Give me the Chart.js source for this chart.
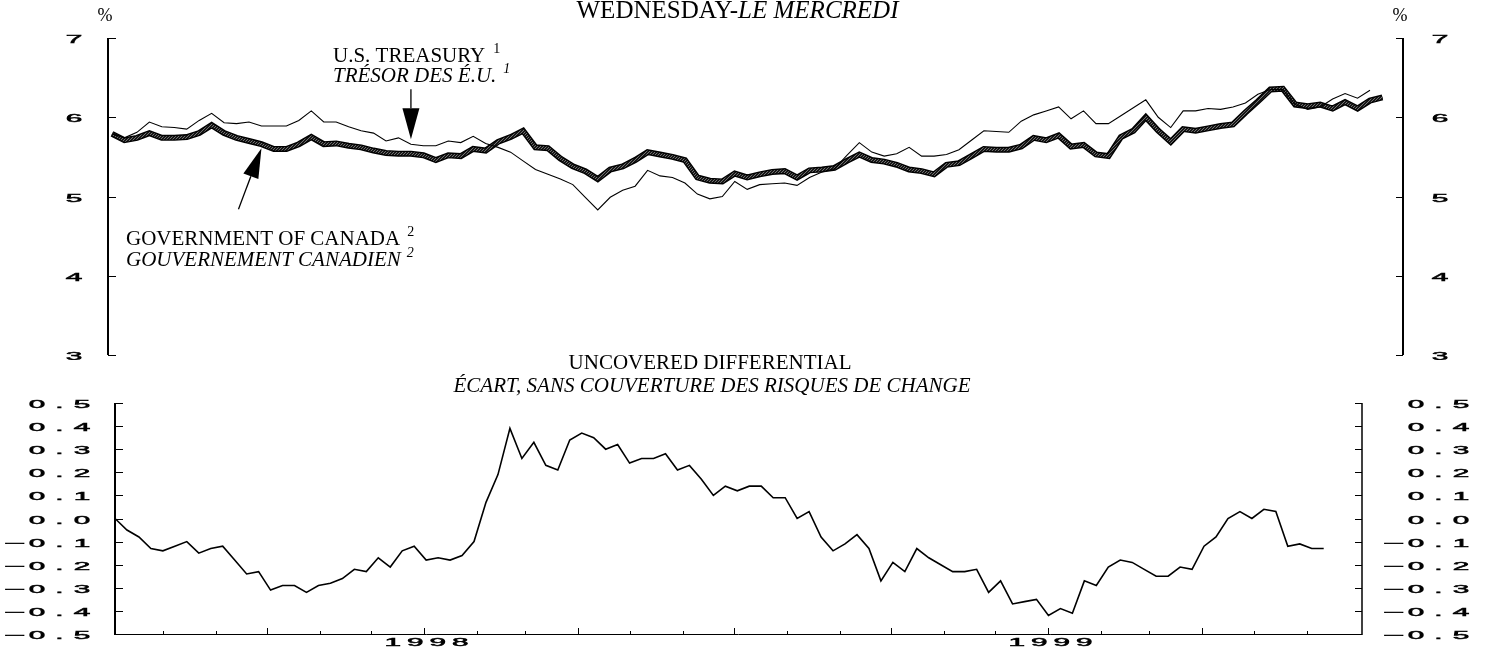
<!DOCTYPE html>
<html>
<head>
<meta charset="utf-8">
<script src="https://cdn.jsdelivr.net/npm/chart.js@4.4.0/dist/chart.umd.min.js"></script>
<style>
  html, body { margin: 0; padding: 0; background: #fff; }
  #wrap { position: relative; width: 1489px; height: 648px; overflow: hidden; }
  canvas { position: absolute; left: 0; }
  #rates { top: 0; }
  #diff { top: 350px; }
</style>
</head>
<body>
<div id="wrap">
  <canvas id="rates" width="1489" height="360"></canvas>
  <canvas id="diff" width="1489" height="298"></canvas>
</div>
<script>
// weekly Wednesday readings, index 0 = 2 July 1997
const usTreasury = [
  5.79, 5.74, 5.81, 5.94, 5.88, 5.87, 5.85, 5.96, 6.05, 5.93,
  5.92, 5.94, 5.89, 5.89, 5.89, 5.96, 6.08, 5.94, 5.94, 5.88,
  5.83, 5.80, 5.70, 5.74, 5.66, 5.64, 5.64, 5.70, 5.68, 5.76,
  5.67, 5.62, 5.56, 5.45, 5.34, 5.28, 5.22, 5.15, 4.99, 4.83,
  4.99, 5.08, 5.13, 5.33, 5.26, 5.24, 5.17, 5.03, 4.97, 5.00,
  5.19, 5.09, 5.15, 5.16, 5.17, 5.14, 5.24, 5.31, 5.35, 5.52,
  5.68, 5.56, 5.51, 5.54, 5.62, 5.51, 5.51, 5.53, 5.59, 5.71,
  5.83, 5.82, 5.81, 5.95, 6.03, 6.08, 6.13, 5.98, 6.08, 5.92,
  5.92, 6.02, 6.12, 6.22, 6.00, 5.87, 6.08, 6.08, 6.11, 6.10,
  6.13, 6.18, 6.29, 6.35, 6.35, 6.16, 6.10, 6.13, 6.23, 6.30,
  6.24, 6.34
];
const govCanada = [
  5.79, 5.71, 5.74, 5.80, 5.74, 5.74, 5.75, 5.80, 5.90, 5.80,
  5.74, 5.70, 5.66, 5.60, 5.60, 5.66, 5.75, 5.66, 5.67, 5.64,
  5.62, 5.58, 5.55, 5.54, 5.54, 5.52, 5.46, 5.52, 5.51, 5.60,
  5.58, 5.69, 5.75, 5.83, 5.62, 5.61, 5.48, 5.38, 5.32, 5.22,
  5.34, 5.38, 5.46, 5.56, 5.53, 5.50, 5.46, 5.24, 5.20, 5.19,
  5.29, 5.24, 5.28, 5.31, 5.32, 5.24, 5.33, 5.34, 5.36, 5.45,
  5.53, 5.46, 5.44, 5.40, 5.34, 5.32, 5.28, 5.40, 5.42, 5.51,
  5.60, 5.59, 5.59, 5.63, 5.74, 5.71, 5.77, 5.63, 5.65, 5.53,
  5.51, 5.75, 5.83, 6.00, 5.83, 5.69, 5.85, 5.83, 5.86, 5.89,
  5.91, 6.06, 6.20, 6.35, 6.36, 6.16, 6.14, 6.16, 6.11, 6.19,
  6.11, 6.21, 6.25
];
const differential = [
   0.00, -0.05, -0.08, -0.13, -0.14, -0.12, -0.10, -0.15, -0.13, -0.12,
  -0.18, -0.24, -0.23, -0.31, -0.29, -0.29, -0.32, -0.29, -0.28, -0.26,
  -0.22, -0.23, -0.17, -0.21, -0.14, -0.12, -0.18, -0.17, -0.18, -0.16,
  -0.10,  0.07,  0.19,  0.39,  0.26,  0.33,  0.23,  0.21,  0.34,  0.37,
   0.35,  0.30,  0.32,  0.24,  0.26,  0.26,  0.28,  0.21,  0.23,  0.17,
   0.10,  0.14,  0.12,  0.14,  0.14,  0.09,  0.09,  0.00,  0.03, -0.08,
  -0.14, -0.11, -0.07, -0.13, -0.27, -0.19, -0.23, -0.13, -0.17, -0.20,
  -0.23, -0.23, -0.22, -0.32, -0.27, -0.37, -0.36, -0.35, -0.42, -0.39,
  -0.41, -0.27, -0.29, -0.21, -0.18, -0.19, -0.22, -0.25, -0.25, -0.21,
  -0.22, -0.12, -0.08,  0.00,  0.03,  0.00,  0.04,  0.03, -0.12, -0.11,
  -0.13, -0.13
];
const rateTicks = [3, 4, 5, 6, 7];
const diffTicks = [-0.5, -0.4, -0.3, -0.2, -0.1, 0, 0.1, 0.2, 0.3, 0.4, 0.5];
const yearLabels = ['1998', '1999'];

const WEEK = 7 * 864e5;
const axisStart = Date.UTC(1997, 6, 4);   // left edge of the lower panel
const weekOf = t => (t - axisStart) / WEEK;

const SERIF = '"Liberation Serif", "Times New Roman", serif';
const pts = arr => arr.map((v, i) => ({ x: i, y: v }));

function seg(ctx, x1, y1, x2, y2) {
  ctx.beginPath(); ctx.moveTo(x1, y1); ctx.lineTo(x2, y2); ctx.stroke();
}

function say(ctx, text, x, y, size, italic, align) {
  ctx.font = (italic ? 'italic ' : '') + size + 'px ' + SERIF;
  ctx.textAlign = align || 'left';
  ctx.textBaseline = 'alphabetic';
  ctx.fillText(text, x, y);
  return ctx.measureText(text).width;
}

function textWidth(ctx, text, size, italic) {
  ctx.font = (italic ? 'italic ' : '') + size + 'px ' + SERIF;
  return ctx.measureText(text).width;
}

// wide plotter numerals, one glyph per fixed cell
function plotter(ctx, text, anchor, baseline, align) {
  const pitch = 22.5;
  const chars = Array.from(text);
  const n = chars.length;
  const first = align === 'center' ? anchor - (n - 1) * pitch / 2 : anchor - (n - 1) * pitch;
  ctx.save();
  ctx.font = '11px "Liberation Sans", Arial, sans-serif';
  ctx.textAlign = 'center';
  ctx.textBaseline = 'alphabetic';
  ctx.fillStyle = '#000';
  ctx.strokeStyle = '#000';
  ctx.lineWidth = 0.5;
  chars.forEach((ch, k) => {
    ctx.save();
    ctx.translate(first + k * pitch, baseline);
    ctx.scale(ch === '\u2212' ? 3.3 : 2.7, 1);
    ctx.fillText(ch, 0, 0);
    ctx.strokeText(ch, 0, 0);
    ctx.restore();
  });
  ctx.restore();
}

function arrow(ctx, x0, y0, x1, y1, headLen, halfW) {
  const dx = x1 - x0, dy = y1 - y0, L = Math.hypot(dx, dy);
  const ux = dx / L, uy = dy / L;
  const bx = x1 - ux * headLen, by = y1 - uy * headLen;
  ctx.lineWidth = 1.3;
  seg(ctx, x0, y0, bx, by);
  ctx.beginPath();
  ctx.moveTo(x1, y1);
  ctx.lineTo(bx - uy * halfW, by + ux * halfW);
  ctx.lineTo(bx + uy * halfW, by - ux * halfW);
  ctx.closePath();
  ctx.fill();
}

function hatch() {
  const c = document.createElement('canvas');
  c.width = 3; c.height = 3;
  const g = c.getContext('2d');
  g.fillStyle = '#161616';
  g.fillRect(0, 0, 3, 3);
  g.strokeStyle = '#8a8a8a';
  g.lineWidth = 0.8;
  g.beginPath(); g.moveTo(-1, 4); g.lineTo(4, -1); g.stroke();
  return g.createPattern(c, 'repeat');
}

const ratesPanel = {
  id: 'ratesPanel',
  afterDraw(chart) {
    const ctx = chart.ctx, x = chart.scales.x, y = chart.scales.y;
    const { left, right, top, bottom } = chart.chartArea;
    ctx.save();
    ctx.strokeStyle = '#000';
    ctx.fillStyle = '#000';
    ctx.lineWidth = 2;
    seg(ctx, left, top, left, bottom);
    seg(ctx, right, top, right, bottom);
    ctx.lineWidth = 1;
    rateTicks.forEach(v => {
      const py = Math.round(y.getPixelForValue(v)) + 0.5;
      seg(ctx, left, py, left + 8, py);
      seg(ctx, right - 7, py, right, py);
      plotter(ctx, String(v), left - 34, py + 4, 'right');
      plotter(ctx, String(v), right + 37, py + 4, 'right');
    });

    say(ctx, '%', left - 3, 21, 18, false, 'center');
    say(ctx, '%', right - 3, 21, 18, false, 'center');

    // title
    const w1 = textWidth(ctx, 'WEDNESDAY-', 25, false);
    const w2 = textWidth(ctx, 'LE MERCREDI', 25, true);
    const sx = 737.5 - (w1 + w2) / 2;
    say(ctx, 'WEDNESDAY-', sx, 18, 25, false);
    say(ctx, 'LE MERCREDI', sx + w1, 18, 25, true);

    // series labels
    let w = say(ctx, 'U.S. TREASURY', 333, 62, 21, false);
    say(ctx, '1', 333 + w + 8, 53, 14, false);
    w = say(ctx, 'TR\u00c9SOR DES \u00c9.U.', 333, 82, 21, true);
    say(ctx, '1', 333 + w + 7, 73, 14, true);
    w = say(ctx, 'GOVERNMENT OF CANADA', 126, 245, 21, false);
    say(ctx, '2', 126 + w + 7, 236, 14, false);
    w = say(ctx, 'GOUVERNEMENT CANADIEN', 126, 266, 21, true);
    say(ctx, '2', 126 + w + 6, 257, 14, true);

    // pointers to the two lines
    const ux = x.getPixelForValue(24), uy = y.getPixelForValue(usTreasury[24]) - 5;
    arrow(ctx, ux, uy - 50, ux, uy, 31, 8.5);
    const cx = x.getPixelForValue(12), cy = y.getPixelForValue(govCanada[12]) + 4;
    arrow(ctx, cx - 23, cy + 61, cx, cy, 30, 8);
    ctx.restore();
  }
};

const diffPanel = {
  id: 'diffPanel',
  afterDraw(chart) {
    const ctx = chart.ctx, x = chart.scales.x, y = chart.scales.y;
    const { left, right, top, bottom } = chart.chartArea;
    ctx.save();
    ctx.strokeStyle = '#000';
    ctx.fillStyle = '#000';
    ctx.lineWidth = 2;
    seg(ctx, left, top, left, bottom + 1);
    ctx.lineWidth = 1.5;
    seg(ctx, right, top, right, bottom + 1);
    ctx.lineWidth = 1;
    seg(ctx, left, bottom + 0.5, right, bottom + 0.5);
    diffTicks.forEach(v => {
      const py = Math.round(y.getPixelForValue(v)) + 0.5;
      seg(ctx, left, py, left + 8, py);
      seg(ctx, right - 7, py, right, py);
      const s = (v < 0 ? '\u2212' : '') + Math.abs(v).toFixed(1);
      plotter(ctx, s, left - 33, py + 4, 'right');
      plotter(ctx, s, right + 99, py + 4, 'right');
    });
    // month ticks, longer at quarters
    for (let m = 7; m <= 29; m++) {
      const px = Math.round(x.getPixelForValue(weekOf(Date.UTC(1997, m, 1)))) + 0.5;
      seg(ctx, px, bottom, px, bottom - (m % 3 === 0 ? 6 : 3));
    }
    yearLabels.forEach(yr => {
      const px = x.getPixelForValue(weekOf(Date.UTC(+yr, 0, 1)));
      plotter(ctx, yr, px + 2, bottom + 12, 'center');
    });

    say(ctx, 'UNCOVERED DIFFERENTIAL', 710, 19, 21, false, 'center');
    say(ctx, '\u00c9CART, SANS COUVERTURE DES RISQUES DE CHANGE', 712, 42, 21, true, 'center');
    ctx.restore();
  }
};

const common = {
  responsive: false,
  animation: false,
  devicePixelRatio: 1,
  elements: {
    point: { radius: 0 },
    line: { tension: 0, borderJoinStyle: 'miter', borderCapStyle: 'butt', fill: false }
  },
  plugins: { legend: { display: false }, tooltip: { enabled: false }, title: { display: false } }
};

new Chart(document.getElementById('rates'), {
  type: 'line',
  data: {
    datasets: [
      { label: 'U.S. Treasury', data: pts(usTreasury), borderColor: '#000', borderWidth: 1.1 },
      { label: 'Government of Canada', data: pts(govCanada), borderColor: hatch(), borderWidth: 3.2 },
      { label: 'Government of Canada (edge)', data: pts(govCanada), borderColor: '#000', borderWidth: 6 }
    ]
  },
  options: Object.assign({}, common, {
    layout: { padding: { left: 108, right: 86, top: 38, bottom: 5 } },
    scales: {
      x: { type: 'linear', min: -0.321, max: 103.65, display: false },
      y: { type: 'linear', min: 3, max: 7, display: false }
    }
  }),
  plugins: [ratesPanel]
});

new Chart(document.getElementById('diff'), {
  type: 'line',
  data: {
    datasets: [
      { label: 'Uncovered differential', data: pts(differential), borderColor: '#000', borderWidth: 1.6 }
    ]
  },
  options: Object.assign({}, common, {
    layout: { padding: { left: 115, right: 127, top: 53, bottom: 14 } },
    scales: {
      x: { type: 'linear', min: 0, max: 104.2, display: false },
      y: { type: 'linear', min: -0.5, max: 0.5, display: false }
    }
  }),
  plugins: [diffPanel]
});
</script>
</body>
</html>
